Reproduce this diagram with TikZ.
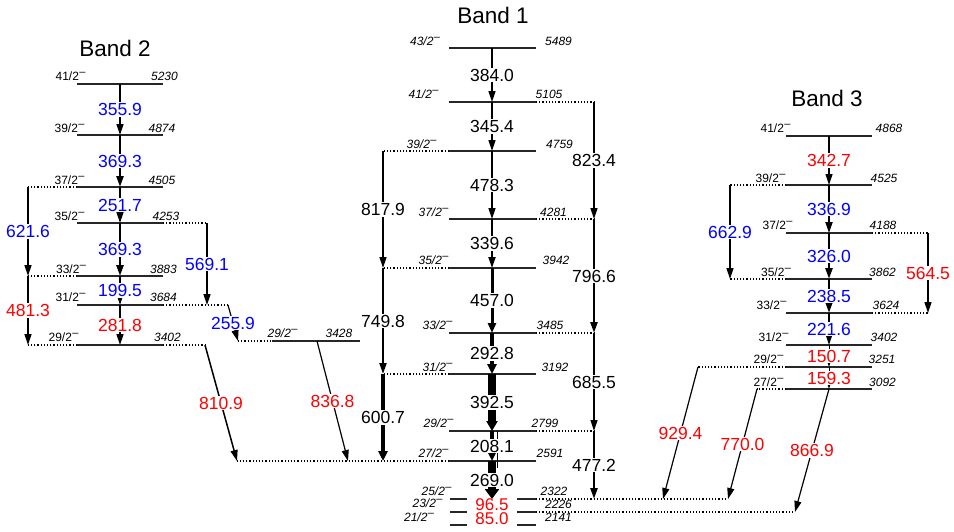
\documentclass[tikz,border=0pt]{standalone}
\usepackage{fontspec}
\setmainfont{Liberation Sans}
\usetikzlibrary{arrows.meta}
\newcommand\mn{\kern0.3pt\raisebox{4.2pt}{\fontsize{11}{11}\selectfont\upshape –}}
\tikzset{
 lev/.style={line width=1.3pt, draw=black!85},
 ext/.style={line width=1.1pt, dash pattern=on 1.2pt off 2pt},
 spn/.style={font=\fontsize{12}{12}\selectfont, inner sep=0pt, anchor=base},
 spni/.style={font=\fontsize{12}{12}\selectfont\itshape, inner sep=0pt, anchor=base},
 eng/.style={font=\fontsize{12}{12}\selectfont\itshape, inner sep=0pt, anchor=base},
 gl/.style={font=\fontsize{17.5}{18}\selectfont, fill=white, inner sep=1pt},
 glb/.style={gl, text=blue},
 glr/.style={gl, text=red},
 ttl/.style={font=\fontsize{22.5}{24}\selectfont},
 tr/.style={line width=#1, -{Triangle[length=11pt,width=7pt]}},
 trw/.style 2 args={line width=#1, -{Triangle[length=10pt,width=#2]}},
}
\begin{document}
\begin{tikzpicture}[x=1pt,y=-1pt]
\useasboundingbox (0,0) rectangle (954,531);

% ---------------- columns
\coordinate (c2) at (120,0); \coordinate (c2l) at (28,0); \coordinate (c2r) at (207,0);
\coordinate (c1) at (492,0); \coordinate (c1l) at (383,0); \coordinate (c1r) at (594,0);
\coordinate (c3) at (829,0); \coordinate (c3l) at (730,0); \coordinate (c3r) at (928,0);
\coordinate (cx) at (317,0);

% ---------------- levels
\foreach \n/\y in {41/84,39/135,37/187,35/223,33/276,31/305,29/345}{
  \coordinate (L2-\n) at (77,\y); \coordinate (R2-\n) at (163,\y);
  \draw[lev] (L2-\n) -- (R2-\n);}
\foreach \n/\y in {43/48,41/102,39/151,37/219,35/268,33/333,31/374,29/431,27/461}{
  \coordinate (L1-\n) at (449,\y); \coordinate (R1-\n) at (536,\y);
  \draw[lev] (L1-\n) -- (R1-\n);}
\foreach \n/\y in {25/499,23/512,21/525}{
  \coordinate (L1-\n) at (450,\y); \coordinate (R1-\n) at (536,\y);
  \coordinate (M1-\n) at (467,\y); \coordinate (N1-\n) at (517,\y);
  \draw[lev] (L1-\n) -- (M1-\n) (N1-\n) -- (R1-\n);}
\foreach \n/\y in {41/136,39/185,37/233,35/279,33/313,31/345,29/367,27/389}{
  \coordinate (L3-\n) at (786,\y); \coordinate (R3-\n) at (872,\y);
  \draw[lev] (L3-\n) -- (R3-\n);}
\coordinate (LX) at (272,341); \coordinate (RX) at (360,341);
\draw[lev] (LX) -- (RX);

% ---------------- dotted extensions
\coordinate (X2-31) at (228,305);
\coordinate (X2-29) at (205,345);
\coordinate (YX) at (238,341);
\coordinate (Z27) at (237,461);
\coordinate (X25) at (728,499);
\coordinate (X23) at (795,512);
\coordinate (X3-29) at (698,367);
\coordinate (X3-27) at (757,389);
\coordinate (E929) at (663,499);
\coordinate (E836) at (348,461);
\draw[ext] (L2-37) -- (c2l |- L2-37);
\draw[ext] (L2-33) -- (c2l |- L2-33);
\draw[ext] (L2-29) -- (c2l |- L2-29);
\draw[ext] (R2-35) -- (c2r |- R2-35);
\draw[ext] (R2-31) -- (X2-31);
\draw[ext] (R2-29) -- (X2-29);
\draw[ext] (YX) -- (LX);
\draw[ext] (R1-41) -- (c1r |- R1-41);
\draw[ext] (R1-37) -- (c1r |- R1-37);
\draw[ext] (R1-33) -- (c1r |- R1-33);
\draw[ext] (R1-29) -- (c1r |- R1-29);
\draw[ext] (L1-39) -- (c1l |- L1-39);
\draw[ext] (L1-35) -- (c1l |- L1-35);
\draw[ext] (L1-31) -- (c1l |- L1-31);
\draw[ext] (L1-27) -- (Z27);
\draw[ext] (R1-25) -- (X25);
\draw[ext] (R1-23) -- (X23);
\draw[ext] (L3-39) -- (c3l |- L3-39);
\draw[ext] (L3-35) -- (c3l |- L3-35);
\draw[ext] (R3-37) -- (c3r |- R3-37);
\draw[ext] (R3-33) -- (c3r |- R3-33);
\draw[ext] (L3-29) -- (X3-29);
\draw[ext] (L3-27) -- (X3-27);

% ---------------- titles
\node[ttl] (t1) at (493,15) {Band 1};
\node[ttl] (t2) at (115,48) {Band 2};
\node[ttl] (t3) at (827,98) {Band 3};

% ---------------- level labels, band 2
\node[spn] (s2a) at (70.5,80) {41/2\mn};  \node[eng] (e2a) at (164.5,80) {5230};
\node[spn] (s2b) at (69.5,132) {39/2\mn}; \node[eng] (e2b) at (162,132) {4874};
\node[spn] (s2c) at (69.5,184) {37/2\mn}; \node[eng] (e2c) at (162,184) {4505};
\node[spn] (s2d) at (69.5,220) {35/2\mn}; \node[eng] (e2d) at (166,220) {4253};
\node[spn] (s2e) at (71,273) {33/2\mn};   \node[eng] (e2e) at (163.5,273) {3883};
\node[spn] (s2f) at (70.5,301) {31/2\mn}; \node[eng] (e2f) at (163.5,301) {3684};
\node[spn] (s2g) at (63.5,341) {29/2\mn}; \node[eng] (e2g) at (167.5,341) {3402};
\node[spni] (sx) at (282.5,337) {29/2\mn}; \node[eng] (ex) at (339,337) {3428};

% ---------------- level labels, band 1
\node[spni] (s1a) at (425,45) {43/2\mn};   \node[eng] (e1a) at (558.5,45) {5489};
\node[spni] (s1b) at (423.5,98) {41/2\mn}; \node[eng] (e1b) at (549,98) {5105};
\node[spni] (s1c) at (421.5,148) {39/2\mn};\node[eng] (e1c) at (559.5,148) {4759};
\node[spni] (s1d) at (433.5,216) {37/2\mn};\node[eng] (e1d) at (553.5,216) {4281};
\node[spni] (s1e) at (433.5,264) {35/2\mn};\node[eng] (e1e) at (556,264) {3942};
\node[spni] (s1f) at (437.5,329) {33/2\mn};\node[eng] (e1f) at (550,329) {3485};
\node[spni] (s1g) at (437.5,371) {31/2\mn};\node[eng] (e1g) at (555,371) {3192};
\node[spni] (s1h) at (438.5,427) {29/2\mn};\node[eng] (e1h) at (545,427) {2799};
\node[spni] (s1i) at (433.5,457) {27/2\mn};\node[eng] (e1i) at (550,457) {2591};
\node[spni] (s1j) at (436.5,495) {25/2\mn};\node[eng] (e1j) at (554,495) {2322};
\node[spni] (s1k) at (427.5,507) {23/2\mn};\node[eng] (e1k) at (558.5,508) {2226};
\node[spni] (s1l) at (419,521) {21/2\mn};  \node[eng] (e1l) at (558.5,521) {2141};

% ---------------- level labels, band 3
\node[spn] (s3a) at (775.5,132) {41/2\mn}; \node[eng] (e3a) at (889,132) {4868};
\node[spn] (s3b) at (770.5,182) {39/2\mn}; \node[eng] (e3b) at (884,182) {4525};
\node[spn] (s3c) at (777.5,229) {37/2\mn}; \node[eng] (e3c) at (883,229) {4188};
\node[spn] (s3d) at (776,276) {35/2\mn};   \node[eng] (e3d) at (882.5,276) {3862};
\node[spn] (s3e) at (771.5,309) {33/2\mn}; \node[eng] (e3e) at (886,309) {3624};
\node[spn] (s3f) at (773.5,341) {31/2\mn}; \node[eng] (e3f) at (884,341) {3402};
\node[spn] (s3g) at (768.5,363) {29/2\mn}; \node[eng] (e3g) at (882,363) {3251};
\node[spn] (s3h) at (768.5,386) {27/2\mn}; \node[eng] (e3h) at (882.5,386) {3092};

% ---------------- transitions, band 2
\draw[tr=1.5] (c2 |- L2-41) -- node[glb] (g1) {355.9} (c2 |- L2-39);
\draw[tr=2.5] (c2 |- L2-39) -- node[glb] (g2) {369.3} (c2 |- L2-37);
\draw[tr=1.5] (c2 |- L2-37) -- node[glb] (g3) {251.7} (c2 |- L2-35);
\draw[tr=2.5] (c2 |- L2-35) -- node[glb] (g4) {369.3} (c2 |- L2-33);
\draw[tr=1.2] (c2 |- L2-33) -- node[glb] (g5) {199.5} (c2 |- L2-31);
\draw[tr=1.5] (c2 |- L2-31) -- node[glr] (g6) {281.8} (c2 |- L2-29);
\draw[tr=1.5] (c2l |- L2-37) -- node[glb] (g7) {621.6} (c2l |- L2-33);
\draw[tr=1.5] (c2l |- L2-33) -- node[glr] (g8) {481.3} (c2l |- L2-29);
\draw[tr=1.5] (c2r |- R2-35) -- node[glb] (g9) {569.1} (c2r |- R2-31);
\draw[tr=1.2] (X2-31) -- node[glb] (g10) {255.9} (YX);
\draw[tr=1.5] (X2-29) -- node[glr] (g11) {810.9} (Z27);
\draw[tr=1.2] (cx |- LX) -- node[glr] (g12) {836.8} (E836);

% ---------------- transitions, band 1
\draw[tr=1.5] (c1 |- L1-43) -- node[gl] (h1) {384.0} (c1 |- L1-41);
\draw[tr=1.5] (c1 |- L1-41) -- node[gl] (h2) {345.4} (c1 |- L1-39);
\draw[tr=1.5] (c1 |- L1-39) -- node[gl] (h3) {478.3} (c1 |- L1-37);
\draw[tr=2] (c1 |- L1-37) -- node[gl] (h4) {339.6} (c1 |- L1-35);
\draw[trw={3}{8pt}] (c1 |- L1-35) -- node[gl] (h5) {457.0} (c1 |- L1-33);
\draw[trw={4}{9pt}] (c1 |- L1-33) -- node[gl] (h6) {292.8} (c1 |- L1-31);
\draw[trw={7.5}{11pt}] (c1 |- L1-31) -- node[gl] (h7) {392.5} (c1 |- L1-29);
\coordinate (thinA) at (497,431); \coordinate (thinB) at (497,468);
\draw[line width=0.8pt] (thinA) -- (thinB);
\draw[trw={4.5}{9pt}] (c1 |- L1-29) -- node[gl] (h8) {208.1} (c1 |- L1-27);
\draw[trw={8}{14pt}] (c1 |- L1-27) -- node[gl] (h9) {269.0} (c1 |- L1-25);
\draw[tr=1.5] (c1r |- R1-41) -- node[gl] (h10) {823.4} (c1r |- R1-37);
\draw[tr=2.5] (c1r |- R1-37) -- node[gl] (h11) {796.6} (c1r |- R1-33);
\draw[tr=1.2] (c1r |- R1-33) -- node[gl] (h12) {685.5} (c1r |- R1-29);
\draw[tr=2.5] (c1r |- R1-29) -- node[gl] (h13) {477.2} (c1r |- R1-25);
\draw[tr=1.5] (c1l |- L1-39) -- node[gl] (h14) {817.9} (c1l |- L1-35);
\draw[tr=2] (c1l |- L1-35) -- node[gl] (h15) {749.8} (c1l |- L1-31);
\draw[trw={4.5}{9pt}] (c1l |- L1-31) -- node[gl] (h16) {600.7} (c1l |- L1-27);
\node[font=\fontsize{17}{17}\selectfont, text=red, inner sep=0pt] (h17) at (492,505) {96.5};
\node[font=\fontsize{17}{17}\selectfont, text=red, inner sep=0pt] (h18) at (492,519) {85.0};

% ---------------- transitions, band 3
\draw[tr=1.2] (c3 |- L3-41) -- node[glr] (k1) {342.7} (c3 |- L3-39);
\draw[tr=2] (c3 |- L3-39) -- node[glb] (k2) {336.9} (c3 |- L3-37);
\draw[tr=2.5] (c3 |- L3-37) -- node[glb] (k3) {326.0} (c3 |- L3-35);
\draw[tr=2.5] (c3 |- L3-35) -- node[glb] (k4) {238.5} (c3 |- L3-33);
\draw[tr=1.2] (c3 |- L3-33) -- node[glb] (k5) {221.6} (c3 |- L3-31);
\draw[tr=1] (c3 |- L3-31) -- node[glr] (k6) {150.7} (c3 |- L3-29);
\draw[tr=1] (c3 |- L3-29) -- node[glr] (k7) {159.3} (c3 |- L3-27);
\draw[tr=1.5] (c3l |- L3-39) -- node[glb] (k8) {662.9} (c3l |- L3-35);
\draw[tr=1.5] (c3r |- R3-37) -- node[glr] (k9) {564.5} (c3r |- R3-33);
\draw[tr=1.2] (X3-29) -- node[glr] (k10) {929.4} (E929);
\draw[tr=1.2] (X3-27) -- node[glr] (k11) {770.0} (X25);
\draw[tr=1.2] (c3 |- L3-27) -- node[glr] (k12) {866.9} (X23);
\end{tikzpicture}
\end{document}
